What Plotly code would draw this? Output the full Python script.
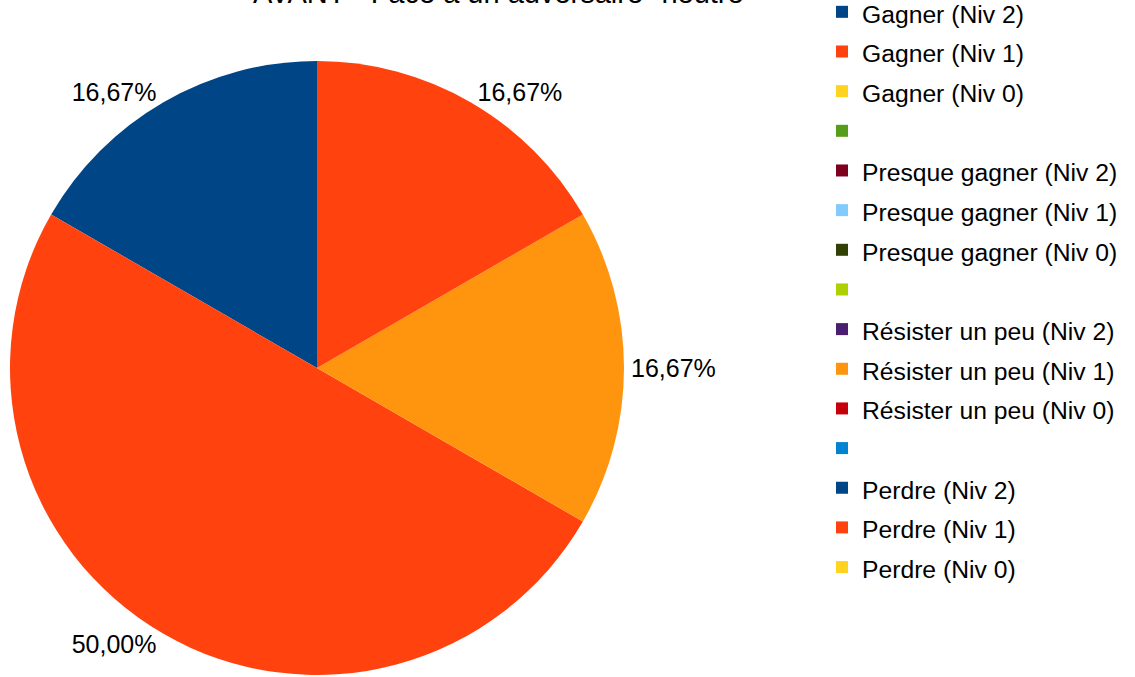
import plotly.graph_objects as go

# categories, in legend order (blank entries are separators in the source chart)
categories = [
    "Gagner (Niv 2)",
    "Gagner (Niv 1)",
    "Gagner (Niv 0)",
    " ",
    "Presque gagner (Niv 2)",
    "Presque gagner (Niv 1)",
    "Presque gagner (Niv 0)",
    "  ",
    "Résister un peu (Niv 2)",
    "Résister un peu (Niv 1)",
    "Résister un peu (Niv 0)",
    "   ",
    "Perdre (Niv 2)",
    "Perdre (Niv 1)",
    "Perdre (Niv 0)",
]

counts = [1, 3, 0, 0, 0, 0, 0, 0, 0, 1, 0, 0, 0, 1, 0]

title_text = 'AVANT - Face à un adversaire "neutre"'

# LibreOffice default chart palette
PALETTE = [
    "#004586", "#ff420e", "#ffd320", "#579d1c", "#7e0021", "#83caff",
    "#314004", "#aecf00", "#4b1f6f", "#ff950e", "#c5000b", "#0084d1",
]
colors = [PALETTE[i % len(PALETTE)] for i in range(len(categories))]

total = sum(counts)
pct_text = [
    (f"{c / total * 100:.2f}".replace(".", ",") + "%") if c else ""
    for c in counts
]

# legend labels drawn smaller than the legend font so rows get the wider spacing
legend_labels = [
    f"<span style='font-size:24.7px'>{c}</span>" if c.strip() else c
    for c in categories
]

W, H = 1135, 677
cx, cy, r = 317, 368, 307

fig = go.Figure(
    go.Pie(
        labels=legend_labels,
        values=counts,
        text=pct_text,
        textinfo="text",
        textposition="outside",
        automargin=False,
        sort=False,
        direction="counterclockwise",
        rotation=-60,
        marker=dict(colors=colors, line=dict(width=0)),
        textfont=dict(size=25, color="#000000"),
        hoverinfo="none",
        domain=dict(
            x=[(cx - r) / W, (cx + r) / W],
            y=[(H - cy - r) / H, (H - cy + r) / H],
        ),
    )
)

fig.add_annotation(
    text=title_text,
    xref="paper",
    yref="paper",
    x=503 / W,
    y=1,
    xanchor="center",
    yanchor="middle",
    yshift=7,
    showarrow=False,
    font=dict(size=29),
)

fig.update_layout(
    width=W,
    height=H,
    margin=dict(l=0, r=0, t=0, b=0, autoexpand=False),
    paper_bgcolor="white",
    plot_bgcolor="white",
    font=dict(family="Liberation Sans, Arial, sans-serif", color="#000000"),
    legend=dict(
        x=822 / W,
        xanchor="left",
        y=1 + 13 / H,
        yanchor="top",
        maxheight=700,
        font=dict(size=28.2),
        bgcolor="rgba(0,0,0,0)",
    ),
)

# drop the page's default body margin so the figure sits at the window's corner
fig.write_html(
    "out.html",
    config={"displayModeBar": False},
    post_script="document.body.style.margin='0';",
)
